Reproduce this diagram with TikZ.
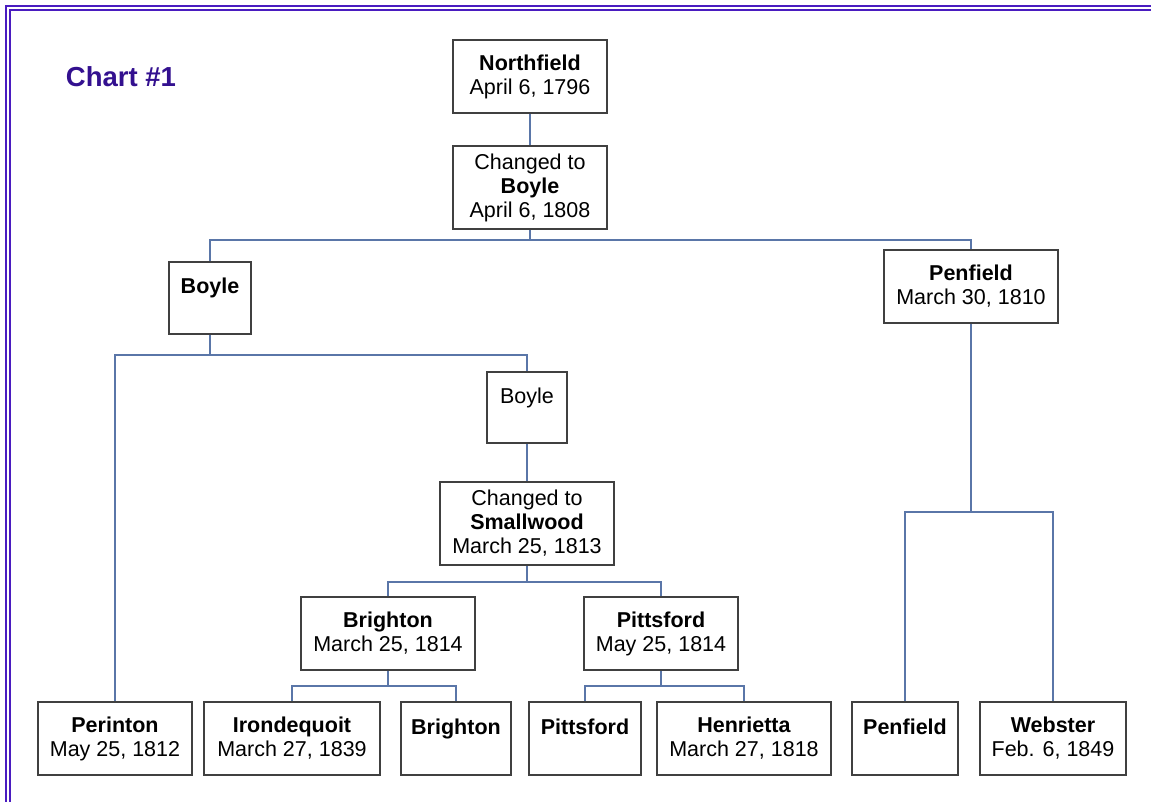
\documentclass[tikz,border=0pt]{standalone}
\usepackage{fontspec}
\setmainfont{Liberation Sans}
\usepackage{tikz}
\usetikzlibrary{positioning, calc}

\definecolor{framepurple}{HTML}{4A1CC0}
\definecolor{titleblue}{HTML}{33108F}
\definecolor{boxgray}{HTML}{404040}
\definecolor{linkblue}{HTML}{5A76A8}

\tikzset{
    town/.style={draw=boxgray, line width=1.6pt, fill=white, align=center,
        inner sep=0pt, minimum height=73pt,
        font=\fontsize{21.5}{24}\selectfont},
    link/.style={draw=linkblue, line width=1.4pt},
    chartframe/.style={draw=framepurple, line width=2pt, double=white,
        double distance=2pt},
    charttitle/.style={text=titleblue, font=\fontsize{27.5}{30}\selectfont\bfseries}
}

\begin{document}
\begin{tikzpicture}[x=1pt, y=-1pt]
    \useasboundingbox (0,0) rectangle (1151,802);
    \draw[chartframe] (8,802) -- (8,8) -- (1151,8);

    \node[charttitle] (chart) at (121,77) {Chart \#1};

    % top of the chart
    \node[town, minimum width=154pt] (north) at (530,76.5) {\textbf{Northfield}\\April 6, 1796};
    \node[town, minimum width=154pt, minimum height=83pt] (boylec) at (530,187.5) {Changed to\\\textbf{Boyle}\\April 6, 1808};
    \node[town, minimum width=82pt, minimum height=72pt] (boylel) at (210,298) {\textbf{Boyle}\\~};
    \node[town, minimum width=174pt] (penf1) at (971,286.5) {\textbf{Penfield}\\March 30, 1810};

    % middle
    \node[town, minimum width=80pt, minimum height=71pt] (boyle2) at (527,407.5) {Boyle\\~};
    \node[town, minimum width=174pt, minimum height=83pt] (small) at (527,523.5) {Changed to\\\textbf{Smallwood}\\March 25, 1813};
    \node[town, minimum width=174pt] (bri1) at (388,633.5) {\textbf{Brighton}\\March 25, 1814};
    \node[town, minimum width=154pt] (pit1) at (661,633.5) {\textbf{Pittsford}\\May 25, 1814};

    % bottom row
    \node[town, minimum width=154pt] (perinton) at (115,738.5) {\textbf{Perinton}\\May 25, 1812};
    \node[town, minimum width=176pt] (iron) at (292,738.5) {\textbf{Irondequoit}\\March 27, 1839};
    \node[town, minimum width=110pt] (bri2) at (456,738.5) {\textbf{Brighton}\\~};
    \node[town, minimum width=112pt] (pit2) at (585,738.5) {\textbf{Pittsford}\\~};
    \node[town, minimum width=174pt] (henr) at (744,738.5) {\textbf{Henrietta}\\March 27, 1818};
    \node[town, minimum width=106pt] (penf2) at (905,738.5) {\textbf{Penfield}\\~};
    \node[town, minimum width=146pt] (web) at (1053,738.5) {\textbf{Webster}\\Feb. 6, 1849};

    % junctions
    \coordinate (j1) at (530,240);
    \coordinate (j2) at (210,355);
    \coordinate (j3) at (527,582);
    \coordinate (j4) at (388,686);
    \coordinate (j5) at (661,686);
    \coordinate (j6) at (971,512);

    \draw[link]
        (north) -- (boylec)
        (boylec) -- (j1) -| (boylel)
        (j1) -| (penf1)
        (boylel) -- (j2) -| (perinton)
        (j2) -| (boyle2)
        (boyle2) -- (small)
        (small) -- (j3) -| (bri1)
        (j3) -| (pit1)
        (bri1) -- (j4) -| (iron)
        (j4) -| (bri2)
        (pit1) -- (j5) -| (pit2)
        (j5) -| (henr)
        (penf1) -- (j6) -| (penf2)
        (j6) -| (web)
        ;
\end{tikzpicture}
\end{document}
